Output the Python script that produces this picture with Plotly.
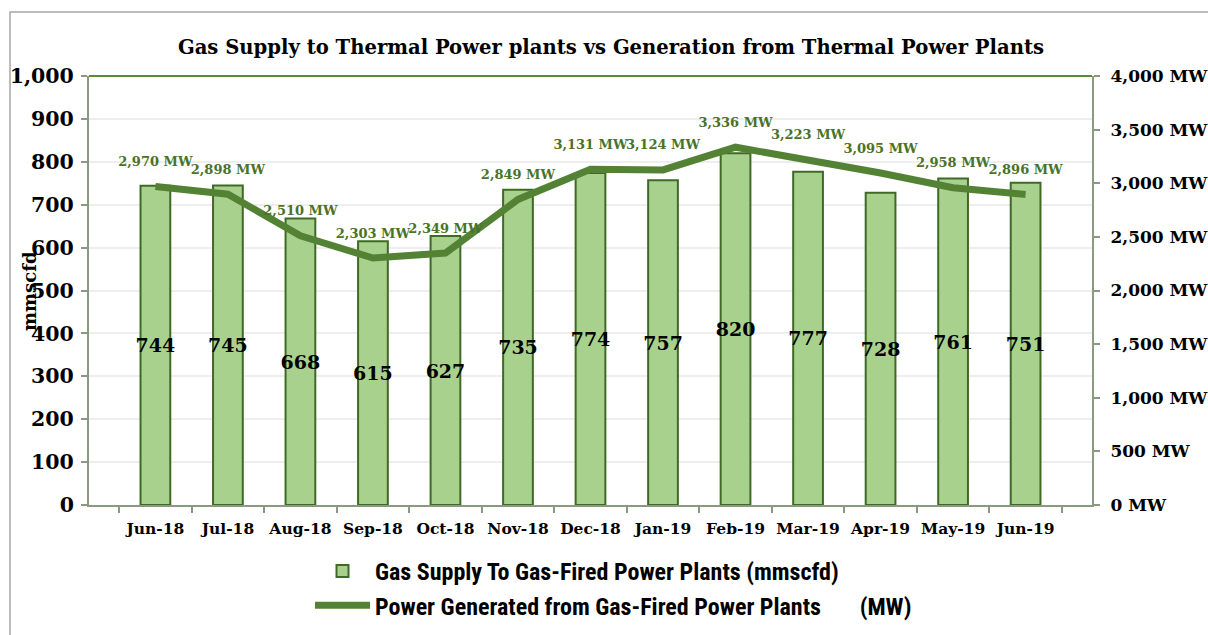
import plotly.graph_objects as go

months = ["Jun-18", "Jul-18", "Aug-18", "Sep-18", "Oct-18", "Nov-18", "Dec-18",
          "Jan-19", "Feb-19", "Mar-19", "Apr-19", "May-19", "Jun-19"]
gas_supply = [744, 745, 668, 615, 627, 735, 774, 757, 820, 777, 728, 761, 751]
power_mw = [2970, 2898, 2510, 2303, 2349, 2849, 3131, 3124, 3336, 3223, 3095, 2958, 2896]

left_ticks = list(range(0, 1001, 100))
right_ticks = list(range(0, 4001, 500))

SERIF = "DejaVu Serif, Liberation Serif, serif"
NARROW = "Liberation Sans Narrow, Roboto Condensed, Liberation Sans, sans-serif"
GREEN = "#548235"
AXIS = "#8a9a80"

W, H = 1208, 635
ML, MR, MT, MB = 89, 116, 76, 130
PW = W - ML - MR
PH = H - MT - MB

def px_x(x):
    return (x - ML) / PW

def px_y(y):
    return (H - MB - y) / PH

fig = go.Figure()

fig.add_trace(go.Bar(
    x=months, y=gas_supply,
    name="Gas Supply To Gas-Fired Power Plants (mmscfd)",
    marker=dict(color="#a9d18e", line=dict(color="#3f6a26", width=2)),
    width=0.41,
    text=[f"{v:,}" for v in gas_supply],
    textposition="inside", insidetextanchor="middle",
    textangle=0, constraintext="none",
    textfont=dict(family=SERIF, size=19, color="#000000", weight="bold"),
    legendgroup="a",
))

fig.add_trace(go.Scatter(
    x=months, y=power_mw, yaxis="y2",
    name="Power Generated from Gas-Fired Power Plants\u00a0\u00a0\u00a0\u00a0\u00a0\u00a0\u00a0(MW)",
    mode="lines",
    line=dict(color=GREEN, width=7),
    legendgroup="b",
))

fig.add_trace(go.Scatter(
    x=months, y=power_mw, yaxis="y2",
    mode="markers+text",
    marker=dict(size=26, opacity=0, color=GREEN),
    text=[f"{v:,} MW" for v in power_mw],
    textposition="top center",
    textfont=dict(family=SERIF, size=13, color="#4a7228", weight="bold"),
    showlegend=False, hoverinfo="skip",
    cliponaxis=False,
))

fig.update_layout(
    width=W, height=H,
    margin=dict(l=ML, r=MR, t=MT, b=MB, autoexpand=False),
    paper_bgcolor="white", plot_bgcolor="white",
    title=dict(text="Gas Supply to Thermal Power plants vs Generation from Thermal Power Plants",
               x=611 / W, xanchor="center", xref="container",
               y=1 - 47 / H, yanchor="middle",
               font=dict(family=SERIF, size=19.6, color="#000000", weight="bold")),
    xaxis=dict(
        type="category", showline=True, linecolor=AXIS, linewidth=2,
        ticks="outside", tickson="boundaries", ticklen=6, tickcolor=AXIS, tickwidth=1.5,
        tickangle=0, automargin=False, ticklabelstandoff=8,
        tickfont=dict(family=SERIF, size=15.5, color="#000000", weight="bold"),
        showgrid=False,
    ),
    yaxis=dict(
        range=[0, 1000], tickvals=left_ticks, ticktext=[f"{v:,}" for v in left_ticks],
        showline=True, linecolor=AXIS, linewidth=2, automargin=False,
        ticks="outside", ticklen=6, tickcolor=AXIS, tickwidth=1.5, ticklabelstandoff=3,
        tickfont=dict(family=SERIF, size=20.5, color="#000000", weight="bold"),
        showgrid=True, gridcolor="#eeeeee", gridwidth=1.5, zeroline=False,
    ),
    yaxis2=dict(
        range=[0, 4000], overlaying="y", side="right",
        tickvals=right_ticks, ticktext=[f"{v:,} MW" for v in right_ticks],
        showline=True, linecolor=AXIS, linewidth=2, automargin=False,
        ticks="outside", ticklen=6, tickcolor=AXIS, tickwidth=1.5, ticklabelstandoff=7,
        tickfont=dict(family=SERIF, size=17, color="#000000", weight="bold"),
        showgrid=False, zeroline=False,
    ),
    legend=dict(
        orientation="v", xref="container", yref="container",
        x=310 / W, xanchor="left", y=1 - 549 / H, yanchor="top",
        font=dict(family=NARROW, size=24, color="#000000", weight="bold"),
        tracegroupgap=5, bgcolor="rgba(0,0,0,0)", itemwidth=55,
        traceorder="normal",
    ),
    showlegend=True,
    shapes=[
        dict(type="rect", xref="paper", yref="paper",
             x0=px_x(10), y0=px_y(12), x1=px_x(1300), y1=px_y(700),
             line=dict(color="#a6a6a6", width=1.5), fillcolor="rgba(0,0,0,0)", layer="below"),
        dict(type="line", xref="paper", yref="paper", x0=0, x1=1, y0=1, y1=1,
             line=dict(color="#5b8c32", width=2)),
    ],
    annotations=[
        dict(text="mmscfd", xref="paper", yref="paper", x=px_x(29), y=px_y(291),
             textangle=-90, showarrow=False, xanchor="center", yanchor="middle",
             font=dict(family=SERIF, size=18, color="#000000", weight="bold")),
    ],
)

fig.write_html("out.html", config={"displayModeBar": False},
               post_script="document.body.style.margin='0';")
